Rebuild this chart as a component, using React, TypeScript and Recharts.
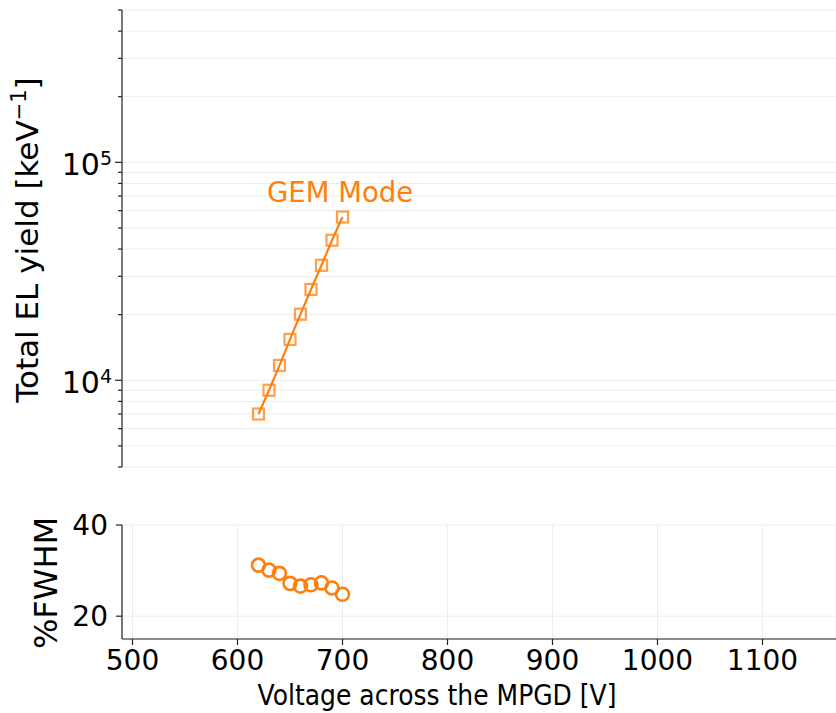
import React from "react";
import { ComposedChart, Line, XAxis, YAxis, CartesianGrid, Label } from "recharts";

const voltages = [620, 630, 640, 650, 660, 670, 680, 690, 700];
const elYield = [7000, 9000, 11700, 15400, 20100, 26100, 33700, 43900, 56100];
const fwhm = [31.2, 30.1, 29.4, 27.2, 26.6, 26.9, 27.3, 26.2, 24.8];

const xTicks = [500, 600, 700, 800, 900, 1000, 1100];
const yieldTicks = [
  4000, 5000, 6000, 7000, 8000, 9000, 10000, 20000, 30000, 40000, 50000, 60000,
  70000, 80000, 90000, 100000, 200000, 300000, 400000, 500000,
];
const majorYield = [10000, 100000];
const fwhmTicks = [20, 40];

const ORANGE = "#ff7f0e";
const FONT = "DejaVu Sans";
const AXIS_X = 122;
const GRID = "#ececec";

const yieldData = voltages.map((v, i) => ({ v, y: elYield[i] }));
const fwhmData = voltages.map((v, i) => ({ v, f: fwhm[i] }));

function YieldTick(props: any) {
  const { y, payload } = props;
  const major = majorYield.includes(payload.value);
  const exp = Math.round(Math.log10(payload.value));
  return (
    <g>
      <line x1={AXIS_X - (major ? 7 : 4)} x2={AXIS_X} y1={y} y2={y} stroke="#222" strokeWidth={1.2} />
      {major && (
        <text x={AXIS_X - 10} y={y + 13} textAnchor="end" fontSize={30} fill="#000" fontFamily={FONT}>
          10
          <tspan dy={-10} fontSize={19}>
            {exp}
          </tspan>
        </text>
      )}
    </g>
  );
}

function SquareDot(props: any) {
  const { cx, cy } = props;
  return (
    <rect
      x={cx - 5.5}
      y={cy - 5.5}
      width={11}
      height={11}
      fill="none"
      stroke={ORANGE}
      strokeOpacity={0.75}
      strokeWidth={2.2}
    />
  );
}

const TopYLabel = () => (
  <text transform="translate(38,240) rotate(-90)" textAnchor="middle" fontSize={31} fontFamily={FONT} fill="#000">
    Total EL yield [keV
    <tspan dy={-12} fontSize={21}>
      −1
    </tspan>
    <tspan dy={12}>]</tspan>
  </text>
);

const GemLabel = () => (
  <text x={267} y={202} fontSize={27.5} fontFamily={FONT} fill={ORANGE}>
    GEM Mode
  </text>
);

const BottomYLabel = () => (
  <text transform="translate(57,83) rotate(-90)" textAnchor="middle" fontSize={32} fontFamily={FONT} fill="#000">
    %FWHM
  </text>
);

const XLabel = () => (
  <text
    x={437}
    y={205}
    textAnchor="middle"
    fontSize={28}
    textLength={359}
    lengthAdjust="spacingAndGlyphs"
    fontFamily={FONT}
    fill="#000"
  >
    Voltage across the MPGD [V]
  </text>
);

export default function App() {
  return (
    <div style={{ position: "absolute", left: 0, top: 0, width: 836, height: 713, background: "#fff" }}>
      <div style={{ position: "absolute", left: 0, top: 0 }}>
        <ComposedChart width={836} height={480} data={yieldData} margin={{ top: 10, right: 0, bottom: 13, left: 0 }}>
          <CartesianGrid vertical={false} stroke={GRID} />
          <XAxis type="number" dataKey="v" domain={[490, 1170]} hide allowDataOverflow />
          <YAxis
            type="number"
            scale="log"
            domain={[4000, 500000]}
            ticks={yieldTicks}
            interval={0}
            width={AXIS_X}
            allowDataOverflow
            axisLine={{ stroke: "#222", strokeWidth: 1.2 }}
            tickLine={false}
            tick={<YieldTick />}
          >
            <Label content={TopYLabel} />
            <Label content={GemLabel} />
          </YAxis>
          <Line
            dataKey="y"
            stroke={ORANGE}
            strokeWidth={2.2}
            dot={<SquareDot />}
            activeDot={false}
            isAnimationActive={false}
          />
        </ComposedChart>
      </div>
      <div style={{ position: "absolute", left: 0, top: 500 }}>
        <ComposedChart width={836} height={213} data={fwhmData} margin={{ top: 25, right: 0, bottom: 0, left: 0 }}>
          <CartesianGrid stroke={GRID} />
          <XAxis
            type="number"
            dataKey="v"
            domain={[490, 1170]}
            ticks={xTicks}
            interval={0}
            height={74}
            allowDataOverflow
            axisLine={{ stroke: "#222", strokeWidth: 1.2 }}
            tickLine={{ stroke: "#222", strokeWidth: 1.2 }}
            tickSize={6}
            tickMargin={5}
            tick={{ fontSize: 28, fill: "#000", fontFamily: FONT }}
          >
            <Label content={XLabel} />
          </XAxis>
          <YAxis
            type="number"
            domain={[15, 40]}
            ticks={fwhmTicks}
            interval={0}
            width={AXIS_X}
            allowDataOverflow
            axisLine={{ stroke: "#222", strokeWidth: 1.2 }}
            tickLine={{ stroke: "#222", strokeWidth: 1.2 }}
            tickSize={6}
            tickMargin={8}
            tick={{ fontSize: 28, fill: "#000", fontFamily: FONT }}
          >
            <Label content={BottomYLabel} />
          </YAxis>
          <Line
            dataKey="f"
            stroke="none"
            dot={{ r: 6.5, stroke: ORANGE, strokeWidth: 2.6, fill: "none" }}
            activeDot={false}
            isAnimationActive={false}
          />
        </ComposedChart>
      </div>
    </div>
  );
}
